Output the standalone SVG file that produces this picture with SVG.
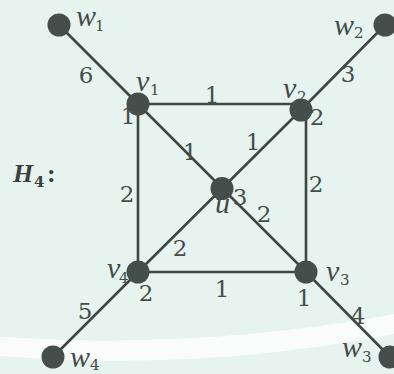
<svg xmlns="http://www.w3.org/2000/svg" width="394" height="374" viewBox="0 0 394 374">
<style>
.e{stroke:#3e4743;stroke-width:2.6;fill:none;stroke-linecap:round}
.n{fill:#444e4a}
.d{font-family:"DejaVu Serif","Liberation Serif",serif;font-size:23px;fill:#454d49;text-anchor:middle}
.m{font-family:"Liberation Serif","DejaVu Serif",serif;font-size:30px;font-style:italic;fill:#434b47}
.s{font-family:"DejaVu Serif","Liberation Serif",serif;font-size:15px;font-style:normal;fill:#434b47}
</style>
<rect width="394" height="374" fill="#e7f3ef"/>
<path d="M0,337 Q200,350 394,314 L394,334 Q200,372 0,356 Z" fill="#fbfdfc" opacity="0.9"/>
<g id="connectors">
<line class="e" x1="59" y1="25" x2="138" y2="104"/>
<line class="e" x1="138" y1="104" x2="301" y2="104" stroke="#4a4b3e"/>
<line class="e" x1="301" y1="110" x2="385" y2="25"/>
<line class="e" x1="138" y1="104" x2="138" y2="272"/>
<line class="e" x1="306" y1="110" x2="306" y2="272"/>
<line class="e" x1="138" y1="272" x2="306" y2="272"/>
<line class="e" x1="138" y1="104" x2="306" y2="272"/>
<line class="e" x1="138" y1="272" x2="301" y2="110"/>
<line class="e" x1="306" y1="272" x2="390" y2="357"/>
<line class="e" x1="138" y1="272" x2="53" y2="357"/>
</g>
<g id="weights">
<text class="d" x="86" y="83">6</text>
<text class="d" x="128" y="124">1</text>
<text class="d" x="212" y="103">1</text>
<text class="d" x="190" y="160">1</text>
<text class="d" x="317" y="125">2</text>
<text class="d" x="348" y="82">3</text>
<text class="d" x="253" y="150">1</text>
<text class="d" x="127" y="202">2</text>
<text class="d" x="316" y="192">2</text>
<text class="d" x="240" y="205">3</text>
<text class="d" x="264" y="222">2</text>
<text class="d" x="180" y="256">2</text>
<text class="d" x="146" y="301">2</text>
<text class="d" x="222" y="297">1</text>
<text class="d" x="304" y="306">1</text>
<text class="d" x="358" y="324">4</text>
<text class="d" x="85" y="319">5</text>
</g>
<g id="title">
<text x="13" y="182" style="font-family:'Liberation Serif','DejaVu Serif',serif;font-size:26px;font-weight:bold;font-style:italic;fill:#3a423e">H<tspan x="34" y="187" style="font-family:'DejaVu Serif',serif;font-size:15px;font-style:normal">4</tspan><tspan x="47" y="182" style="font-style:normal">:</tspan></text>
</g>
<g id="w1"><circle class="n" cx="59" cy="25" r="11.5"/><text class="m" x="76" y="26">w<tspan class="s" x="95" y="31">1</tspan></text></g>
<g id="w2"><circle class="n" cx="385" cy="25" r="11.5"/><text class="m" x="334" y="35">w<tspan class="s" x="354" y="38">2</tspan></text></g>
<g id="w3"><circle class="n" cx="390" cy="357" r="11.5"/><text class="m" x="342" y="357">w<tspan class="s" x="362" y="362">3</tspan></text></g>
<g id="w4"><circle class="n" cx="53" cy="357" r="11.5" fill="#555a58"/><text class="m" x="70" y="367">w<tspan class="s" x="90" y="370">4</tspan></text></g>
<g id="v1"><text class="m" x="136" y="91">v<tspan class="s" x="150" y="95">1</tspan></text><circle class="n" cx="138" cy="104" r="11.5"/></g>
<g id="v2"><text class="m" x="283" y="98">v<tspan class="s" x="297" y="102">2</tspan></text><circle class="n" cx="301" cy="110" r="11.5"/></g>
<g id="v3"><text class="m" x="326" y="281">v<tspan class="s" x="340" y="285">3</tspan></text><circle class="n" cx="306" cy="272" r="11.5"/></g>
<g id="v4"><text class="m" x="107" y="278">v<tspan class="s" x="119" y="283">4</tspan></text><circle class="n" cx="138" cy="272" r="11.5"/></g>
<g id="u"><text class="m" x="215" y="213">u</text><circle class="n" cx="222" cy="188.5" r="11.5"/></g>
</svg>
